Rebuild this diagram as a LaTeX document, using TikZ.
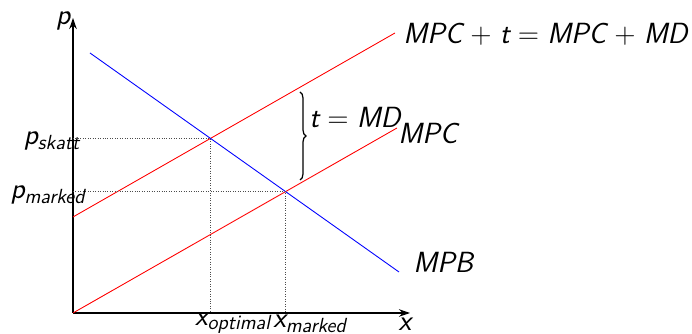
\documentclass[tikz,border=0pt]{standalone}
\usepackage{amsmath}
\usepackage{tikz}
\usetikzlibrary{arrows.meta, positioning, calc, decorations.pathreplacing}

\newcommand{\sub}[1]{\textsubscript{#1}}
\newcommand{\op}[1]{\;\textup{#1}\;}

\begin{document}
\begin{tikzpicture}[
    font=\sffamily\itshape\fontsize{16.6}{19}\selectfont,
    axis/.style={draw=black, line width=0.6pt, -{Stealth[length=2.2mm, width=1.5mm]}},
    supply/.style={draw=red, line width=0.5pt},
    demand/.style={draw=blue, line width=0.5pt},
    guide/.style={draw=black!70, densely dotted, line width=0.4pt},
    lbl/.style={inner sep=0pt}
]
    \useasboundingbox (-1.46,-0.42) rectangle (12.38,6.26);

    % Axes
    \coordinate (O) at (0,0);
    \coordinate (ytop) at (0,5.9);
    \coordinate (xend) at (6.74,0);
    \draw[axis] (O) -- (ytop);
    \draw[axis] (O) -- (xend);
    \node[lbl, left=0.05cm of ytop, yshift=-0.06cm] (plabel) {p};
    \node[lbl] (xlabel) at (6.64,-0.23) {x};

    % Curves
    \coordinate (mpc1) at (0,0);
    \coordinate (mpc2) at (6.48,3.70);
    \coordinate (tax1) at (0,1.92);
    \coordinate (tax2) at (6.44,5.60);
    \coordinate (mpb1) at (0.34,5.20);
    \coordinate (mpb2) at (6.52,0.82);
    \draw[supply] (mpc1) -- (mpc2);
    \draw[supply] (tax1) -- (tax2);
    \draw[demand] (mpb1) -- (mpb2);

    % Equilibria
    \coordinate (skatt) at (intersection of mpb1--mpb2 and tax1--tax2);
    \coordinate (marked) at (intersection of mpb1--mpb2 and mpc1--mpc2);
    \draw[guide] (skatt -| O) -- (skatt) -- (skatt |- O);
    \draw[guide] (marked -| O) -- (marked) -- (marked |- O);

    % Labels
    \node[lbl] (pskatt) at (-0.42,3.44) {p\sub{skatt}};
    \node[lbl] (pmarked) at (-0.5,2.36) {p\sub{marked}};
    \node[lbl] (xopt) at (3.2,-0.2) {x\sub{optimal}};
    \node[lbl] (xmarked) at (4.74,-0.22) {x\sub{marked}};
    \node[lbl, anchor=west] (taxlabel) at (6.6,5.58) {MPC\op{+}t\op{=}MPC\op{+}MD};
    \node[lbl, anchor=west] (mpclabel) at (6.5,3.6) {MPC};
    \node[lbl, anchor=west] (mpblabel) at (6.8,1.02) {MPB};

    % Tax wedge
    \coordinate (btop) at (4.54,4.42);
    \coordinate (bbot) at (4.54,2.66);
    \draw[line width=0.7pt, decorate, decoration={brace, amplitude=0.12cm}] (btop) -- (bbot);
    \node[lbl, anchor=west] (mdlabel) at (4.72,3.9) {t\op{=}MD};
\end{tikzpicture}
\end{document}
